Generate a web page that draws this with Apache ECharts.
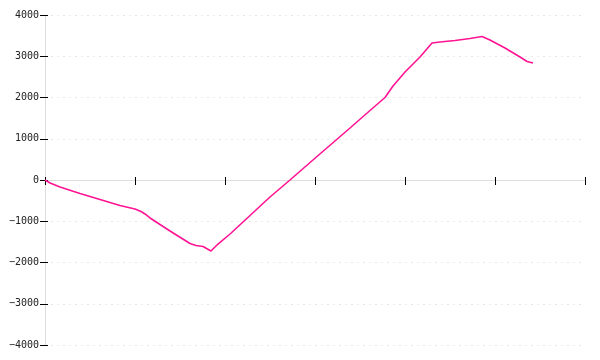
<!DOCTYPE html>
<html><head><meta charset="utf-8">
<script src="https://cdn.jsdelivr.net/npm/echarts@6/dist/echarts.min.js"></script>
<style>html,body{margin:0;padding:0;background:#fff}#c{width:600px;height:360px}</style>
</head><body><div id="c"></div>
<script>
const xValues = [0, 5.6, 16.7, 38.9, 61.1, 83.3, 100, 106.7, 111.1, 116.7, 138.9, 161.1, 167.8, 175.6, 184.4, 192.2, 205.6, 227.8, 250, 272.2, 302.2, 338.9, 361.1, 377.8, 386.7, 400, 416.7, 430, 438.9, 455.6, 472.2, 485.6, 494.4, 511.1, 527.8, 535.6, 542.2];
const yValues = [0, -73, -170, -327, -473, -618, -703, -764, -824, -921, -1236, -1539, -1588, -1612, -1721, -1552, -1309, -861, -412, 0, 570, 1261, 1685, 2000, 2279, 2618, 2982, 3321, 3345, 3382, 3430, 3479, 3394, 3200, 2982, 2873, 2836];
const yTicks = [-4000, -3000, -2000, -1000, 0, 1000, 2000, 3000, 4000];

const data = xValues.map((x, i) => [x, yValues[i]]);
const chart = echarts.init(document.getElementById('c'), null, {renderer: 'canvas'});
const font = 'DejaVu Sans Mono';
chart.setOption({
  animation: false,
  grid: {left: 45, right: 15, top: 15, bottom: 15},
  xAxis: [
    {type: 'value', min: 0, max: 600, interval: 100,
     axisLine: {show: true, onZero: true, lineStyle: {color: '#dddddd', width: 1}},
     axisTick: {show: true, inside: false, length: 5, lineStyle: {color: '#000'}},
     axisLabel: {show: false}, splitLine: {show: false}},
    {type: 'value', min: 0, max: 600, interval: 100, position: 'bottom',
     axisLine: {show: false, onZero: true},
     axisTick: {show: true, inside: true, length: 3, lineStyle: {color: '#000'}},
     axisLabel: {show: false}, splitLine: {show: false}}
  ],
  yAxis: [
    {type: 'value', min: yTicks[0], max: yTicks[yTicks.length-1], interval: 1000,
     axisLine: {show: true, onZero: false, lineStyle: {color: '#dddddd', width: 1}},
     axisTick: {show: true, inside: false, length: 5, lineStyle: {color: '#000'}},
     axisLabel: {show: true, margin: 6, color: '#222', fontFamily: font, fontSize: 10,
       formatter: v => String(v).replace('-', '\u2212')},
     splitLine: {show: true, lineStyle: {color: '#e8e8e8', type: [2, 4], width: 1}}},
    {type: 'value', min: yTicks[0], max: yTicks[yTicks.length-1], interval: 1000, position: 'left',
     axisLine: {show: false, onZero: false},
     axisTick: {show: true, inside: true, length: 3, lineStyle: {color: '#000'}},
     axisLabel: {show: false}, splitLine: {show: false}}
  ],
  series: [{
    type: 'line', xAxisIndex: 0, yAxisIndex: 0, data: data,
    showSymbol: false, smooth: false,
    lineStyle: {color: '#ff1493', width: 1.6}
  }]
});
</script></body></html>
